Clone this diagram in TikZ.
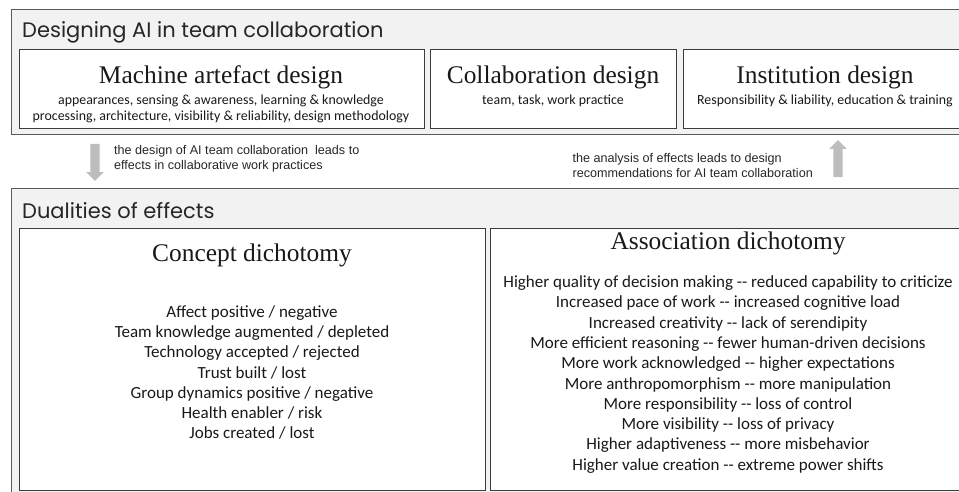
\documentclass[tikz,border=0pt]{standalone}
\usepackage{fontspec}
\newfontfamily\headfont{Poppins}
\newfontfamily\titlefont{Liberation Serif}
\newfontfamily\bodyfont{Carlito}
\newfontfamily\notefont{Liberation Sans}
\usepackage{xcolor}
\usetikzlibrary{positioning,shapes.arrows}
\definecolor{panelfill}{HTML}{F2F2F2}
\definecolor{panelline}{HTML}{5A5A5A}
\definecolor{cardline}{HTML}{3C3C3C}
\definecolor{arrowfill}{HTML}{BDBDBD}

\begin{document}
\begin{tikzpicture}[x=1pt,y=-1pt,
    panel/.style={draw=panelline, fill=panelfill, line width=1.3pt},
    card/.style={draw=cardline, fill=white, line width=1pt, inner sep=0pt, anchor=north west},
    headtext/.style={anchor=west, inner sep=0pt, text=black!85, font=\headfont\fontsize{21}{24}\selectfont},
    cardtitle/.style={inner sep=0pt, text=black!90, font=\titlefont\fontsize{25.4}{28}\selectfont},
    cardsub/.style={inner sep=0pt, align=center, text=black!90, font=\bodyfont\fontsize{13.9}{16}\selectfont},
    listtext/.style={inner sep=0pt, align=center, text=black!90, font=\bodyfont\fontsize{17}{20.3}\selectfont},
    notetext/.style={inner sep=0pt, align=left, anchor=west, text=black!85, font=\notefont\fontsize{12.6}{15}\selectfont},
    blockarrow/.style={single arrow, fill=arrowfill, draw=none, inner sep=4.5pt, minimum height=37pt, minimum width=17pt, single arrow head extend=4pt}]
    \useasboundingbox (0,0) rectangle (959,492);

    % design layer
    \node[panel, anchor=north west, inner sep=0pt, minimum width=964pt, minimum height=125pt] (design) at (11,9) {};
    \node[headtext] (designhead) at (22,32) {Designing AI in team collaboration};
    \node[card, minimum width=405pt, minimum height=79pt] (machine) at (19,49) {};
    \node[card, minimum width=246pt, minimum height=79pt] (collab) at (430,49) {};
    \node[card, minimum width=284pt, minimum height=79pt] (institution) at (683,49) {};
    \node[cardtitle] (machinetitle) at (221,77) {Machine artefact design};
    \node[cardsub] (machinesub) at (221,109) {appearances, sensing \& awareness, learning \& knowledge\\processing, architecture, visibility \& reliability, design methodology};
    \node[cardtitle] (collabtitle) at (553,77) {Collaboration design};
    \node[cardsub] (collabsub) at (553,101) {team, task, work practice};
    \node[cardtitle] (institutiontitle) at (825,77) {Institution design};
    \node[cardsub] (institutionsub) at (825,101) {Responsibility \& liability, education \& training};

    % between the layers
    \node[blockarrow, shape border rotate=270] (downarrow) at (95,160) {};
    \node[notetext] (downnote) at (114,159) {the design of AI team collaboration\ \ leads to\\effects in collaborative work practices};
    \node[blockarrow, shape border rotate=90] (uparrow) at (838,161) {};
    \node[notetext, anchor=east] (upnote) at (813,165) {the analysis of effects leads to design\\recommendations for AI team collaboration};

    % effects layer
    \node[panel, anchor=north west, inner sep=0pt, minimum width=964pt, minimum height=320pt] (effects) at (11,188) {};
    \node[headtext] (effectshead) at (22,211) {Dualities of effects};
    \node[card, minimum width=466pt, minimum height=262pt] (concept) at (19,228) {};
    \node[card, minimum width=476pt, minimum height=262pt] (association) at (490,228) {};
    \node[cardtitle] (concepttitle) at (252,255) {Concept dichotomy};
    \node[listtext] (conceptlist) at (252,372.5) {Affect positive / negative\\Team knowledge augmented / depleted\\Technology accepted / rejected\\Trust built / lost\\Group dynamics positive / negative\\Health enabler / risk\\Jobs created / lost};
    \node[cardtitle] (associationtitle) at (728,243) {Association dichotomy};
    \node[listtext] (associationlist) at (728,374.5) {Higher quality of decision making -{}- reduced capability to criticize\\Increased pace of work -{}- increased cognitive load\\Increased creativity -{}- lack of serendipity\\More efficient reasoning -{}- fewer human-driven decisions\\More work acknowledged -{}- higher expectations\\More anthropomorphism -{}- more manipulation\\More responsibility -{}- loss of control\\More visibility -{}- loss of privacy\\Higher adaptiveness -{}- more misbehavior\\Higher value creation -{}- extreme power shifts};
\end{tikzpicture}
\end{document}
